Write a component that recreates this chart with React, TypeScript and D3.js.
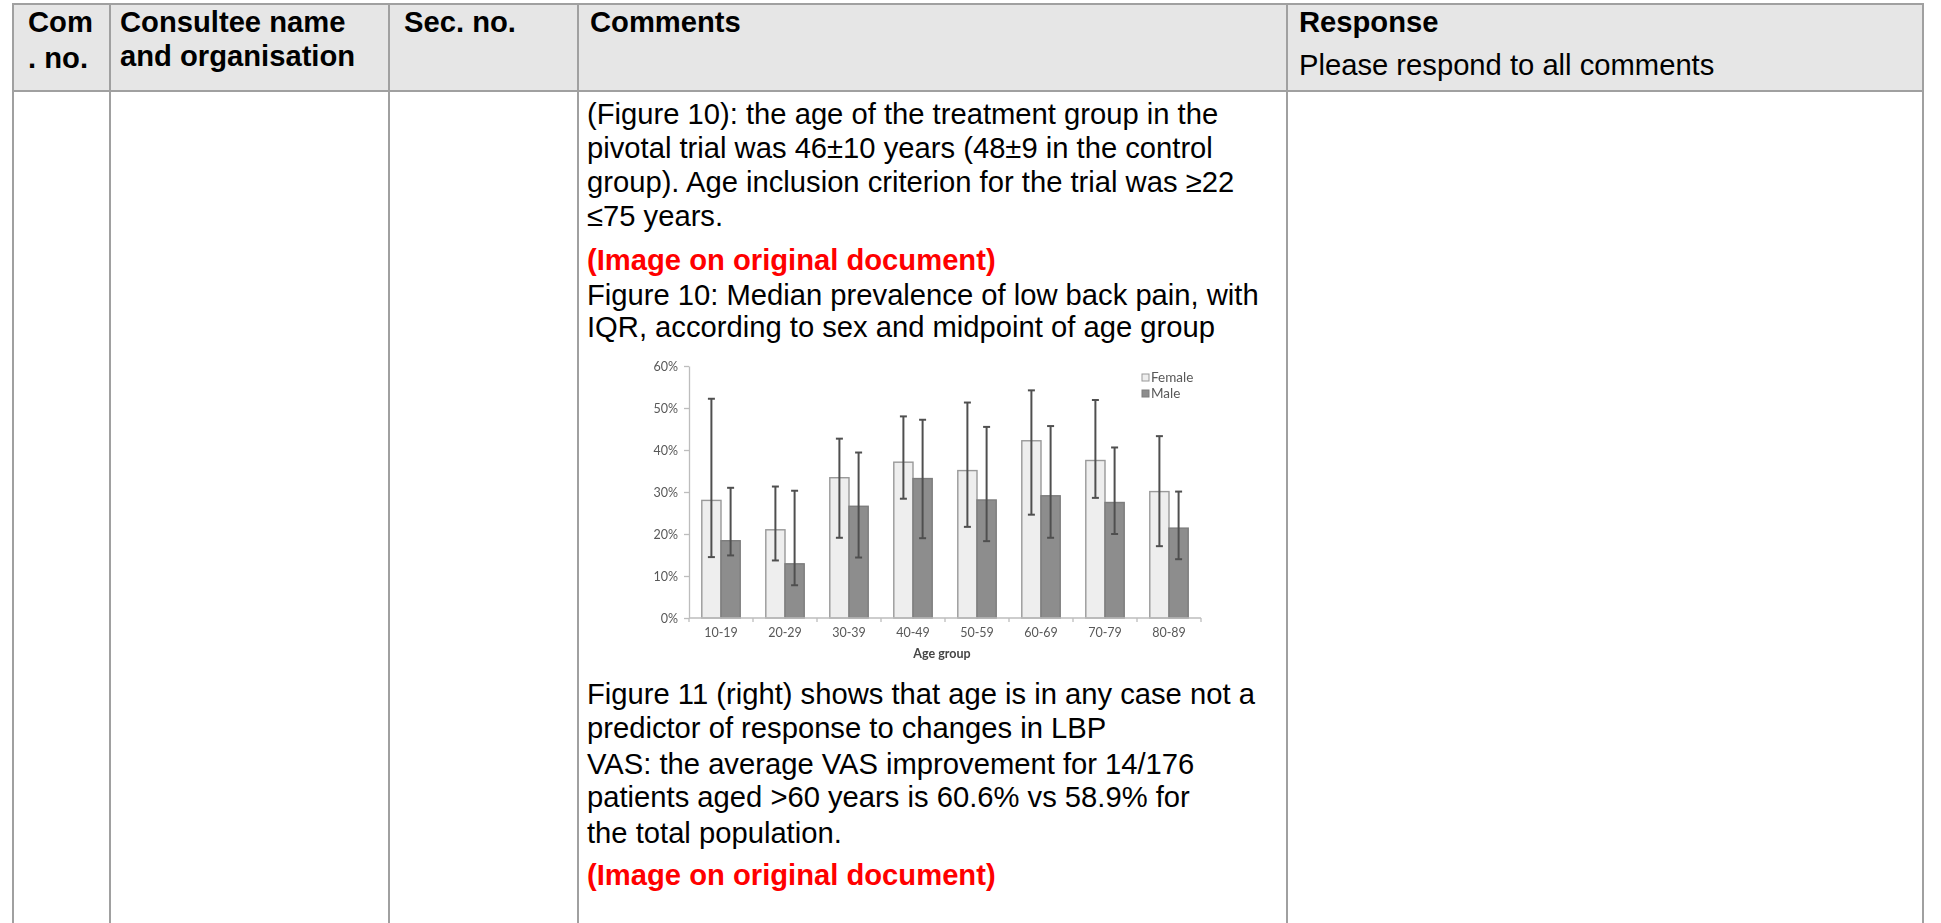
import React, { useEffect, useRef } from "react";
import * as d3 from "d3";

// ---------- data ----------
const categories = ["10-19", "20-29", "30-39", "40-49", "50-59", "60-69", "70-79", "80-89"];
const femaleMedian = [28.0, 21.0, 33.4, 37.1, 35.1, 42.2, 37.5, 30.1];
const femaleQ3 = [52.2, 31.3, 42.7, 48.0, 51.3, 54.2, 51.9, 43.3];
const femaleQ1 = [14.5, 13.7, 19.1, 28.4, 21.7, 24.6, 28.6, 17.1];
const maleMedian = [18.4, 12.9, 26.6, 33.2, 28.1, 29.1, 27.5, 21.4];
const maleQ3 = [31.0, 30.3, 39.4, 47.2, 45.5, 45.7, 40.6, 30.1];
const maleQ1 = [14.9, 7.8, 14.4, 19.0, 18.3, 19.1, 20.0, 14.0];
const yTicks = [0, 10, 20, 30, 40, 50, 60];
const seriesNames = ["Female", "Male"];
const xTitle = "Age group";

const headerLine1 = [
  { col: 0, text: "Com" },
  { col: 1, text: "Consultee name" },
  { col: 2, text: "Sec. no." },
  { col: 3, text: "Comments" },
  { col: 4, text: "Response" },
];
const headerLine2 = [
  { col: 0, text: ". no.", bold: true },
  { col: 1, text: "and organisation", bold: true },
  { col: 4, text: "Please respond to all comments", bold: false },
];
const topLines = [
  "(Figure 10): the age of the treatment group in the",
  "pivotal trial was 46±10 years (48±9 in the control",
  "group). Age inclusion criterion for the trial was ≥22",
  "≤75 years.",
];
const redNote = "(Image on original document)";
const captionLines = [
  "Figure 10: Median prevalence of low back pain, with",
  "IQR, according to sex and midpoint of age group",
];
const bottomLines = [
  "Figure 11 (right) shows that age is in any case not a",
  "predictor of response to changes in LBP",
  "VAS: the average VAS improvement for 14/176",
  "patients aged >60 years is 60.6% vs 58.9% for",
  "the total population.",
];

// ---------- layout ----------
const W = 1941;
const H = 923;
const colX = [13, 110, 389, 578, 1287, 1923];
const headerTextX = [28, 120, 404, 590, 1299];
const bodyX = 587;
const tableTop = 4;
const headerBottom = 91;
const FONT = "'Liberation Sans', Arial, Helvetica, sans-serif";
const FS = 29.2;
const CHART_FONT = "Lato, 'Open Sans', sans-serif";

const plot = { left: 689, right: 1201, top: 366, bottom: 618 };

export default function App() {
  const yAxisRef = useRef<SVGGElement>(null);
  const xAxisRef = useRef<SVGGElement>(null);

  useEffect(() => {
    document.body.style.margin = "0";
    document.body.style.overflow = "hidden";
  }, []);

  const x = d3
    .scaleBand<string>()
    .domain(categories)
    .range([plot.left, plot.right])
    .paddingInner(0.4)
    .paddingOuter(0.2);
  const sub = d3.scaleBand<string>().domain(seriesNames).range([0, x.bandwidth()]).padding(0);
  const y = d3.scaleLinear().domain([0, 60]).range([plot.bottom, plot.top]);

  useEffect(() => {
    if (yAxisRef.current) {
      const g = d3.select(yAxisRef.current);
      g.selectAll("*").remove();
      g.call(
        d3
          .axisLeft(y)
          .tickValues(yTicks)
          .tickSize(5)
          .tickSizeOuter(0)
          .tickPadding(6)
          .tickFormat((d) => `${d}%`)
      );
      g.select(".domain").attr("stroke", "#bdbdbd").attr("stroke-width", 1.3);
      g.selectAll(".tick line").attr("stroke", "#bdbdbd").attr("stroke-width", 1.3);
      g.selectAll(".tick text")
        .attr("fill", "#585858")
        .attr("font-size", 12.5)
        .attr("font-family", CHART_FONT);
    }
    if (xAxisRef.current) {
      const g = d3.select(xAxisRef.current);
      g.selectAll("*").remove();
      g.call(d3.axisBottom(x).tickSize(0).tickPadding(10));
      g.select(".domain").remove();
      g.selectAll(".tick text")
        .attr("fill", "#585858")
        .attr("font-size", 12.5)
        .attr("font-family", CHART_FONT);
    }
  });

  const step = x.step();
  const gap = (step - x.bandwidth()) / 2;
  const boundaries = categories.map((c) => (x(c) as number) - gap).concat([plot.right]);

  const series = [
    { name: "Female", med: femaleMedian, hi: femaleQ3, lo: femaleQ1, fill: "#eeeeee", stroke: "#999999" },
    { name: "Male", med: maleMedian, hi: maleQ3, lo: maleQ1, fill: "#8d8d8d", stroke: "#7d7d7d" },
  ];

  const headerY1 = 32;
  const headerY2 = [68, 66, 75];
  const topY = [124, 158, 192, 226];
  const redY1 = 270;
  const capY = [305, 337];
  const botY = [704, 738, 774, 807, 843, 885];

  return (
    <svg
      width={W}
      height={H}
      style={{ position: "absolute", left: 0, top: 0, background: "#fff" }}
      fontFamily={FONT}
    >
      <defs>
        <filter id="soft" x="-5%" y="-5%" width="110%" height="110%">
          <feGaussianBlur stdDeviation="0.55" />
        </filter>
      </defs>
      <rect x={0} y={0} width={W} height={H} fill="#fff" />
      {/* header background */}
      <rect x={colX[0]} y={tableTop} width={colX[5] - colX[0]} height={headerBottom - tableTop} fill="#e6e6e6" />
      {/* table lines */}
      <g stroke="#a0a0a0" strokeWidth={2}>
        <line x1={colX[0] - 1} x2={colX[5] + 1} y1={tableTop} y2={tableTop} />
        <line x1={colX[0] - 1} x2={colX[5] + 1} y1={headerBottom} y2={headerBottom} />
        {colX.map((cx, i) => (
          <line key={i} x1={cx} x2={cx} y1={tableTop} y2={H} />
        ))}
      </g>
      {/* header text */}
      <g fontSize={FS} fill="#000">
        {headerLine1.map((h, i) => (
          <text key={i} x={headerTextX[h.col]} y={headerY1} fontWeight="bold">
            {h.text}
          </text>
        ))}
        {headerLine2.map((h, i) => (
          <text key={i} x={headerTextX[h.col]} y={headerY2[i]} fontWeight={h.bold ? "bold" : "normal"}>
            {h.text}
          </text>
        ))}
      </g>
      {/* body text */}
      <g fontSize={FS} fill="#000">
        {topLines.map((t, i) => (
          <text key={i} x={bodyX} y={topY[i]}>
            {t}
          </text>
        ))}
        <text x={bodyX} y={redY1} fill="#ff0000" fontWeight="bold">
          {redNote}
        </text>
        {captionLines.map((t, i) => (
          <text key={i} x={bodyX} y={capY[i]}>
            {t}
          </text>
        ))}
        {bottomLines.map((t, i) => (
          <text key={i} x={bodyX} y={botY[i]}>
            {t}
          </text>
        ))}
        <text x={bodyX} y={botY[5]} fill="#ff0000" fontWeight="bold">
          {redNote}
        </text>
      </g>

      {/* chart */}
      <g filter="url(#soft)">
        {series.map((s) => (
          <g key={s.name}>
            {categories.map((c, i) => {
              const bx = (x(c) as number) + (sub(s.name) as number);
              const bw = sub.bandwidth();
              return (
                <rect
                  key={c}
                  x={bx}
                  y={y(s.med[i])}
                  width={bw}
                  height={y(0) - y(s.med[i])}
                  fill={s.fill}
                  stroke={s.stroke}
                  strokeWidth={1.4}
                />
              );
            })}
          </g>
        ))}
        {/* x axis line & boundary ticks */}
        <line x1={plot.left} x2={plot.right} y1={y(0)} y2={y(0)} stroke="#bdbdbd" strokeWidth={1.3} />
        {boundaries.map((bx, i) => (
          <line key={i} x1={bx} x2={bx} y1={y(0)} y2={y(0) + 4} stroke="#bdbdbd" strokeWidth={1.3} />
        ))}
        <g ref={yAxisRef} transform={`translate(${plot.left},0)`} />
        <g ref={xAxisRef} transform={`translate(0,${plot.bottom})`} />
        {/* IQR error bars */}
        {series.map((s) => (
          <g key={s.name + "err"} stroke="#505050" strokeWidth={2}>
            {categories.map((c, i) => {
              const cx = (x(c) as number) + (sub(s.name) as number) + sub.bandwidth() / 2;
              return (
                <g key={c}>
                  <line x1={cx} x2={cx} y1={y(s.hi[i])} y2={y(s.lo[i])} />
                  <line x1={cx - 3.5} x2={cx + 3.5} y1={y(s.hi[i])} y2={y(s.hi[i])} />
                  <line x1={cx - 3.5} x2={cx + 3.5} y1={y(s.lo[i])} y2={y(s.lo[i])} />
                </g>
              );
            })}
          </g>
        ))}
        <text
          x={(plot.left + plot.right) / 2 - 3}
          y={658}
          textAnchor="middle"
          fontFamily={CHART_FONT}
          fontWeight="bold"
          fontSize={12.5}
          fill="#444"
        >
          {xTitle}
        </text>
        {/* legend */}
        {series.map((s, i) => (
          <g key={s.name + "leg"} transform={`translate(1142,${374 + i * 16})`}>
            <rect x={0} y={0} width={7} height={7} fill={s.fill} stroke={s.stroke} strokeWidth={1} />
            <text x={9} y={7.5} fontFamily={CHART_FONT} fontSize={13.5} fill="#585858">
              {s.name}
            </text>
          </g>
        ))}
      </g>
    </svg>
  );
}
